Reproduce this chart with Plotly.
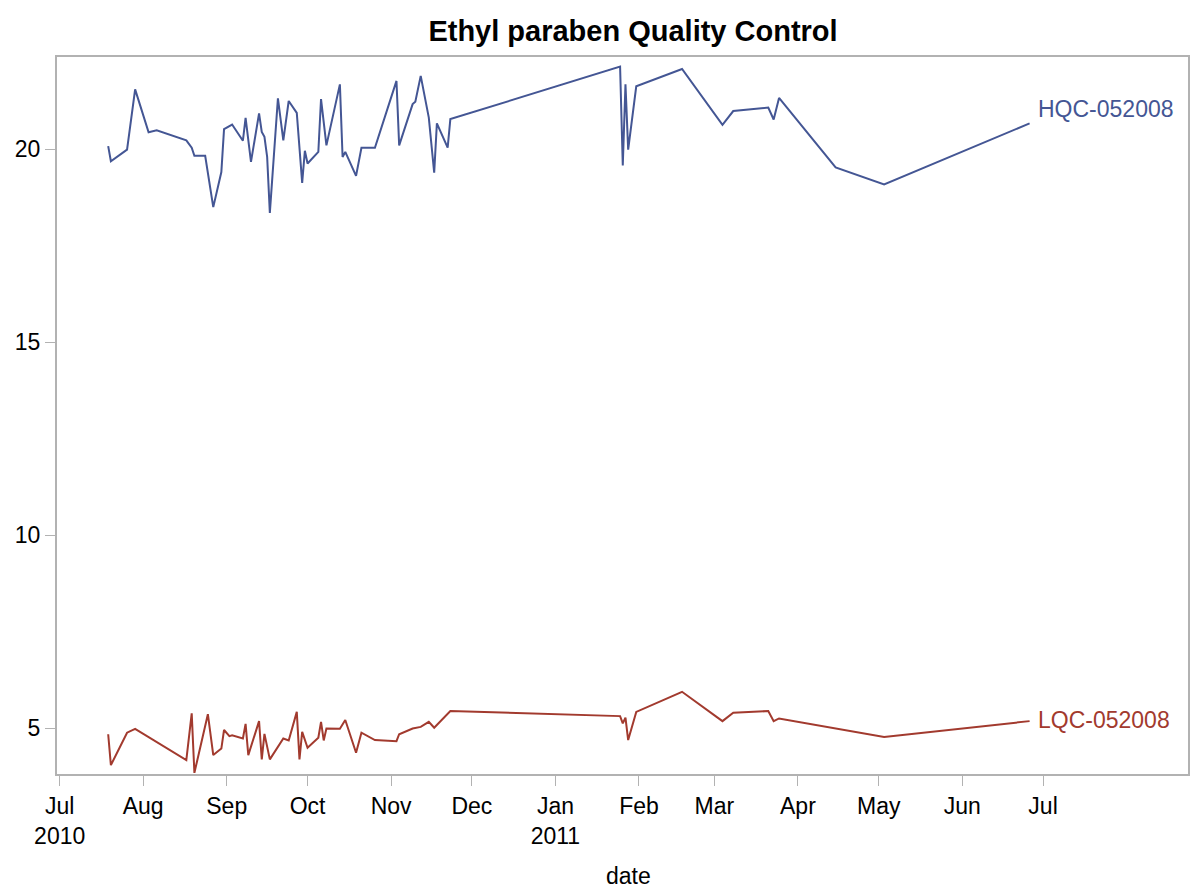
import plotly.graph_objects as go

# ---- data ----
hqc_dates = [
    "2010-07-19", "2010-07-20", "2010-07-26", "2010-07-29", "2010-08-03", "2010-08-06",
    "2010-08-17", "2010-08-19", "2010-08-20", "2010-08-24", "2010-08-27", "2010-08-30",
    "2010-08-31", "2010-09-03", "2010-09-07", "2010-09-08", "2010-09-10", "2010-09-13",
    "2010-09-14", "2010-09-15", "2010-09-16", "2010-09-17", "2010-09-20", "2010-09-22",
    "2010-09-24", "2010-09-27", "2010-09-29", "2010-09-30", "2010-10-01", "2010-10-05",
    "2010-10-06", "2010-10-08", "2010-10-13", "2010-10-14", "2010-10-15", "2010-10-19",
    "2010-10-21", "2010-10-26", "2010-11-03", "2010-11-04", "2010-11-09", "2010-11-10",
    "2010-11-12", "2010-11-15", "2010-11-17", "2010-11-18", "2010-11-22", "2010-11-23",
    "2011-01-25", "2011-01-26", "2011-01-27", "2011-01-28", "2011-01-31", "2011-02-17",
    "2011-03-04", "2011-03-08", "2011-03-21", "2011-03-23", "2011-03-25", "2011-04-15",
    "2011-05-03", "2011-06-26",
]
hqc_values = [
    20.08, 19.69, 19.99, 21.55, 20.44, 20.49, 20.23, 20.04, 19.83, 19.83,
    18.50, 19.41, 20.52, 20.64, 20.22, 20.81, 19.67, 20.93, 20.45, 20.32,
    19.80, 18.35, 21.32, 20.23, 21.25, 20.94, 19.13, 19.96, 19.63, 19.93,
    21.30, 20.10, 21.68, 19.80, 19.93, 19.31, 20.04, 20.04, 21.77, 20.10,
    21.17, 21.23, 21.90, 20.82, 19.39, 20.67, 20.04, 20.78, 22.14, 19.58,
    21.68, 19.99, 21.63, 22.08, 20.63, 20.99, 21.08, 20.77, 21.33, 19.53,
    19.09, 20.67,
]

lqc_dates = [
    "2010-07-19", "2010-07-20", "2010-07-26", "2010-07-29", "2010-08-17", "2010-08-19",
    "2010-08-20", "2010-08-25", "2010-08-27", "2010-08-30", "2010-08-31", "2010-09-02",
    "2010-09-03", "2010-09-07", "2010-09-08", "2010-09-09", "2010-09-13", "2010-09-14",
    "2010-09-15", "2010-09-17", "2010-09-22", "2010-09-24", "2010-09-27", "2010-09-28",
    "2010-09-29", "2010-10-01", "2010-10-05", "2010-10-06", "2010-10-07", "2010-10-08",
    "2010-10-13", "2010-10-15", "2010-10-19", "2010-10-21", "2010-10-26", "2010-11-03",
    "2010-11-04", "2010-11-09", "2010-11-12", "2010-11-15", "2010-11-17", "2010-11-23",
    "2011-01-25", "2011-01-26", "2011-01-27", "2011-01-28", "2011-01-31", "2011-02-17",
    "2011-03-04", "2011-03-08", "2011-03-21", "2011-03-23", "2011-03-25", "2011-05-03",
    "2011-06-26",
]
lqc_values = [
    4.84, 4.04, 4.88, 4.98, 4.17, 5.38, 3.84, 5.36, 4.30, 4.47,
    4.95, 4.79, 4.81, 4.73, 5.11, 4.30, 5.18, 4.19, 4.85, 4.19,
    4.73, 4.68, 5.42, 4.19, 4.90, 4.49, 4.75, 5.16, 4.68, 4.99,
    4.98, 5.21, 4.36, 4.88, 4.69, 4.66, 4.84, 4.99, 5.03, 5.16,
    5.01, 5.44, 5.31, 5.12, 5.27, 4.69, 5.42, 5.94, 5.18, 5.40,
    5.44, 5.18, 5.25, 4.77, 5.18,
]

series_names = ["HQC-052008", "LQC-052008"]
tick_dates = ["2010-07-01", "2010-08-01", "2010-09-01", "2010-10-01", "2010-11-01",
              "2010-12-01", "2011-01-01", "2011-02-01", "2011-03-01", "2011-04-01",
              "2011-05-01", "2011-06-01", "2011-07-01"]
tick_labels = ["Jul<br>2010", "Aug", "Sep", "Oct", "Nov", "Dec", "Jan<br>2011",
               "Feb", "Mar", "Apr", "May", "Jun", "Jul"]
y_ticks = [5, 10, 15, 20]

# ---- styling ----
BLUE = "#445694"
RED = "#A23A2E"
FONT = "Liberation Sans, Arial, sans-serif"
AXIS = "#b2b2b2"

fig = go.Figure()
fig.add_trace(go.Scatter(x=hqc_dates, y=hqc_values, mode="lines",
                         line=dict(color=BLUE, width=2), name=series_names[0]))
fig.add_trace(go.Scatter(x=lqc_dates, y=lqc_values, mode="lines",
                         line=dict(color=RED, width=2), name=series_names[1]))

# curve labels at the end of each line
fig.add_annotation(x=hqc_dates[-1], y=hqc_values[-1], text=series_names[0],
                   showarrow=False, xanchor="left", yanchor="middle",
                   xshift=6, yshift=14, font=dict(family=FONT, size=23, color=BLUE))
fig.add_annotation(x=lqc_dates[-1], y=lqc_values[-1], text=series_names[1],
                   showarrow=False, xanchor="left", yanchor="middle",
                   xshift=6, yshift=1, font=dict(family=FONT, size=23, color=RED))

# x axis title
fig.add_annotation(x=0.505, y=-0.142, xref="paper", yref="paper", text="date",
                   showarrow=False, xanchor="center", yanchor="middle",
                   font=dict(family=FONT, size=23, color="black"))

fig.update_layout(
    width=1191, height=888,
    margin=dict(l=57, r=3, t=57, b=114, autoexpand=False),
    paper_bgcolor="white", plot_bgcolor="white",
    showlegend=False,
    font=dict(family=FONT, size=23, color="black"),
    title=dict(text="<b>Ethyl paraben Quality Control</b>",
               x=0.5315, xref="container", xanchor="center",
               y=1 - 31 / 888, yref="container", yanchor="middle",
               font=dict(family=FONT, size=29, color="black")),
)
fig.update_xaxes(
    type="date", automargin=False,
    range=["2010-06-30", "2011-08-23 19:00"],
    tickmode="array", tickvals=tick_dates, ticktext=tick_labels,
    ticks="outside", ticklen=10, tickwidth=1, tickcolor=AXIS,
    showline=True, linecolor=AXIS, linewidth=2, mirror=True,
    showgrid=False, zeroline=False,
    tickfont=dict(family=FONT, size=23, color="black"),
)
fig.update_yaxes(
    automargin=False,
    range=[3.81, 22.39],
    tickmode="array", tickvals=y_ticks,
    ticks="outside", ticklen=10, tickwidth=1, tickcolor=AXIS,
    showline=True, linecolor=AXIS, linewidth=2, mirror=True,
    showgrid=False, zeroline=False,
    tickfont=dict(family=FONT, size=23, color="black"),
)

fig.write_html(
    "out.html",
    config={"displayModeBar": False},
    post_script="document.body.style.margin='0';document.body.style.overflow='hidden';",
)
